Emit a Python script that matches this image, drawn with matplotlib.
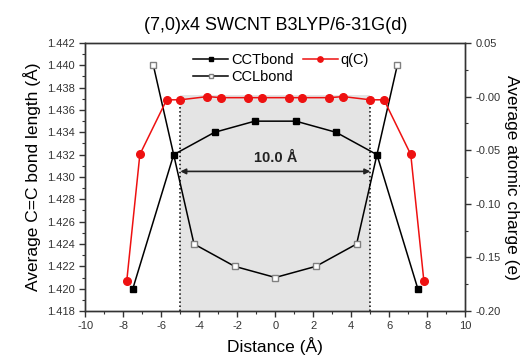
import numpy as np
import matplotlib
matplotlib.use('Agg')
import matplotlib.pyplot as plt

plt.rcParams['font.family'] = ['Liberation Sans', 'DejaVu Sans']
plt.rcParams['axes.unicode_minus'] = False

# datos
x_cct = [-7.5, -5.35, -3.2, -1.08, 1.08, 3.2, 5.35, 7.5]
y_cct = [1.420, 1.432, 1.434, 1.435, 1.435, 1.434, 1.432, 1.420]

x_ccl = [-6.42, -4.28, -2.14, 0.0, 2.14, 4.28, 6.42]
y_ccl = [1.440, 1.424, 1.422, 1.421, 1.422, 1.424, 1.440]

x_q = [-7.82, -7.13, -5.72, -5.0, -3.57, -2.84, -1.42, -0.72,
       0.72, 1.42, 2.84, 3.57, 5.0, 5.72, 7.13, 7.82]
y_q = [-0.172, -0.054, -0.003, -0.003, 0.000, -0.001, -0.001, -0.001,
       -0.001, -0.001, -0.001, 0.000, -0.003, -0.003, -0.054, -0.172]

region = [-5.0, 5.0]
region_top = 1.4373

fig = plt.figure(figsize=(5.32, 3.6), dpi=100)
ax = fig.add_axes([0.1604, 0.1361, 0.7142, 0.7445])
ax2 = ax.twinx()

# region sombreada y lineas punteadas
ax.fill_between(region, 1.418, region_top, color='#e4e4e4', lw=0, zorder=0)
for xv in region:
    ax.plot([xv, xv], [1.418, 1.4369], ls=':', color='black', lw=1.1, zorder=1)

ax.annotate('', xy=(region[0], 1.4305), xytext=(region[1], 1.4305),
            arrowprops=dict(arrowstyle='<|-|>', color='#222222', lw=1.2,
                            mutation_scale=8, shrinkA=0, shrinkB=0))
ax.text(0, 1.4311, '10.0 Å', ha='center', va='bottom', fontsize=10.5,
        fontweight='bold', color='#222222')

l1, = ax.plot(x_cct, y_cct, '-s', color='black', lw=1.1, ms=5,
              mfc='black', mec='black', label='CCTbond', zorder=3)
l2, = ax.plot(x_ccl, y_ccl, '-s', color='black', lw=1.1, ms=5,
              mfc='white', mec='#808080', label='CCLbond', zorder=3)
l3, = ax2.plot(x_q, y_q, '-o', color='#ee1111', lw=1.1, ms=5.5,
               mfc='#ee1111', mec='#ee1111', label='q(C)', zorder=3)

ax.set_xlim(-10, 10)
ax.set_ylim(1.418, 1.442)
ax2.set_ylim(-0.20, 0.05)

ax.set_xticks(np.arange(-10, 11, 2))
ax.set_xticks(np.arange(-9, 10, 2), minor=True)
ax.set_yticks(np.arange(1.418, 1.4425, 0.002))
ax.set_yticks(np.arange(1.419, 1.442, 0.002), minor=True)
ax.yaxis.set_major_formatter(plt.FormatStrFormatter('%.3f'))
ax2.set_yticks(np.arange(-0.20, 0.051, 0.05))
ax2.set_yticks(np.arange(-0.175, 0.05, 0.05), minor=True)
ax2.yaxis.set_major_formatter(plt.FormatStrFormatter('%.2f'))

for a in (ax, ax2):
    a.tick_params(which='major', direction='out', length=4, width=1,
                  labelsize=8, color='#333333', labelcolor='#333333')
    a.tick_params(which='minor', direction='out', length=2.5, width=0.8,
                  color='#333333')
    for s in a.spines.values():
        s.set_linewidth(1.0)
        s.set_color('#333333')

ax.set_xlabel('Distance (Å)', fontsize=12.5, labelpad=4)
ax.set_ylabel('Average C=C bond length (Å)', fontsize=12.5, labelpad=4)
ax2.set_ylabel('Average atomic charge (e)', fontsize=12.5, rotation=270,
               labelpad=13)
ax.set_title('(7,0)x4 SWCNT B3LYP/6-31G(d)', fontsize=13, pad=9)

ax2.legend([l1, l2, l3], ['CCTbond', 'CCLbond', 'q(C)'], ncol=2,
           loc='upper center', bbox_to_anchor=(0.515, 1.0), frameon=False,
           fontsize=10.5, handlelength=2.4, columnspacing=0.6,
           handletextpad=0.2, labelspacing=0.2, borderaxespad=0.3,
           markerscale=0.7)

fig.savefig('out.png', dpi=100)
